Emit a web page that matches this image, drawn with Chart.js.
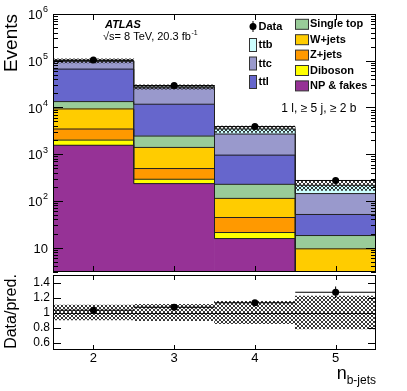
<!DOCTYPE html>
<html>
<head>
<meta charset="utf-8">
<script src="https://cdn.jsdelivr.net/npm/chart.js@4.4.0/dist/chart.umd.min.js"></script>
<style>
  body { margin: 0; background: #fff; }
  #wrap { position: relative; width: 407px; height: 391px; }
  canvas { position: absolute; left: 0; top: 0; }
</style>
</head>
<body>
<div id="wrap">
  <canvas id="main" width="407" height="391"></canvas>
  <canvas id="ratio" width="407" height="391"></canvas>
</div>
<script>
// b-jet multiplicity bins
const bins = ['2', '3', '4', '5'];

// stacked predictions (events per bin), bottom to top
const npFakes   = [1550, 234, 15.6, 1.2];
const diboson   = [450, 56, 5.4, 0.3];
const zJets     = [1450, 202, 23, 0.9];
const wJets     = [5840, 900, 69, 7.0];
const singleTop = [4050, 1045, 113, 8.7];
const ttl       = [52760, 9280, 725, 33];
const ttc       = [31000, 14500, 1740, 92];
const ttb       = [3000, 1300, 760, 72];

// data and uncertainties
const dataCounts = [103000, 29400, 3890, 273];
const dataErr    = [320, 170, 62, 17];
const relUnc     = [0.10, 0.11, 0.15, 0.22];
const ratio      = [1.03, 1.07, 1.13, 1.27];
const ratioErr   = [0.003, 0.006, 0.018, 0.077];

// axis ticks
const logTicks   = [10, 100, 1000, 10000, 100000, 1000000];
const ratioTicks = [0.6, 0.8, 1, 1.2, 1.4];

const FONT = '"Liberation Sans", Arial, Helvetica, sans-serif';

const samples = [
    { label: 'NP & fakes', data: npFakes,   color: '#963296', col: 'right' },
    { label: 'Diboson',    data: diboson,   color: '#ffff00', col: 'right' },
    { label: 'Z+jets',     data: zJets,     color: '#ff9900', col: 'right' },
    { label: 'W+jets',     data: wJets,     color: '#ffcc00', col: 'right' },
    { label: 'Single top', data: singleTop, color: '#99cc99', col: 'right' },
    { label: 'ttl',        data: ttl,       color: '#6666cc', col: 'left' },
    { label: 'ttc',        data: ttc,       color: '#9999cc', col: 'left' },
    { label: 'ttb',        data: ttb,       color: '#ccffff', col: 'left' }
];

const totals = bins.map((_, i) => samples.reduce((s, p) => s + p.data[i], 0));

function makeHatch() {
    const c = document.createElement('canvas');
    c.width = 4; c.height = 4;
    const g = c.getContext('2d');
    g.strokeStyle = '#222';
    g.lineWidth = 0.9;
    g.beginPath();
    g.moveTo(-1, -1); g.lineTo(5, 5);
    g.moveTo(5, -1); g.lineTo(-1, 5);
    g.stroke();
    return g.createPattern(c, 'repeat');
}
const hatch = makeHatch();

function drawFrame(chart) {
    const ctx = chart.ctx, a = chart.chartArea;
    ctx.save();
    ctx.strokeStyle = '#000';
    ctx.lineWidth = 1;
    ctx.strokeRect(Math.round(a.left) + 0.5, Math.round(a.top) + 0.5,
        Math.round(a.right - a.left) - 1, Math.round(a.bottom - a.top) - 1);
    ctx.restore();
}

function yTick(ctx, a, y, len) {
    ctx.moveTo(a.left, y); ctx.lineTo(a.left + len, y);
    ctx.moveTo(a.right, y); ctx.lineTo(a.right - len, y);
}

function xTicks(chart, len) {
    const ctx = chart.ctx, a = chart.chartArea, xs = chart.scales.x;
    bins.forEach((b, i) => {
        const x = Math.round(xs.getPixelForValue(i)) + 0.5;
        ctx.moveTo(x, a.bottom); ctx.lineTo(x, a.bottom - len);
        ctx.moveTo(x, a.top); ctx.lineTo(x, a.top + len);
    });
}

// histogram outlines, drawn before the hatched band
function drawOutlines(chart, n) {
    const ctx = chart.ctx, a = chart.chartArea;
    ctx.save();
    ctx.beginPath();
    ctx.rect(a.left, a.top, a.right - a.left, a.bottom - a.top);
    ctx.clip();
    ctx.strokeStyle = '#222';
    ctx.lineWidth = 1;
    for (let d = 0; d < n; d++) {
        const bars = chart.getDatasetMeta(d).data;
        ctx.beginPath();
        bars.forEach((b, i) => {
            const l = b.x - b.width / 2, r = b.x + b.width / 2;
            if (i === 0) ctx.moveTo(l, b.y); else ctx.lineTo(l, b.y);
            ctx.lineTo(r, b.y);
        });
        ctx.stroke();
    }
    ctx.restore();
}

function drawErrors(chart, idx, errs) {
    const ctx = chart.ctx, ys = chart.scales.y, xs = chart.scales.x;
    const half = (xs.getPixelForValue(1) - xs.getPixelForValue(0)) / 2;
    const vals = chart.data.datasets[idx].data;
    ctx.save();
    ctx.strokeStyle = '#000';
    ctx.lineWidth = 1;
    chart.getDatasetMeta(idx).data.forEach((p, i) => {
        ctx.beginPath();
        ctx.moveTo(p.x - half, p.y); ctx.lineTo(p.x + half, p.y);
        ctx.moveTo(p.x, ys.getPixelForValue(vals[i] - errs[i]));
        ctx.lineTo(p.x, ys.getPixelForValue(vals[i] + errs[i]));
        ctx.stroke();
    });
    ctx.restore();
}

const mainDecor = {
    id: 'mainDecor',
    beforeDatasetDraw(chart, args) {
        if (args.index === samples.length) drawOutlines(chart, samples.length);
        if (args.index === samples.length + 1) drawErrors(chart, args.index, dataErr);
    },
    afterDraw(chart) {
        const ctx = chart.ctx, a = chart.chartArea, ys = chart.scales.y;
        drawFrame(chart);

        // log ticks, both sides
        ctx.save();
        ctx.strokeStyle = '#000';
        ctx.lineWidth = 1;
        ctx.beginPath();
        for (let e = 0; e < 6; e++) {
            for (let k = 2; k <= 9; k++) {
                const v = k * Math.pow(10, e);
                if (v < ys.min || v > ys.max) continue;
                yTick(ctx, a, Math.round(ys.getPixelForValue(v)) + 0.5, 5);
            }
        }
        logTicks.forEach(v => yTick(ctx, a, Math.round(ys.getPixelForValue(v)) + 0.5, 10));
        xTicks(chart, 6);
        ctx.stroke();

        // tick labels
        ctx.fillStyle = '#000';
        ctx.textBaseline = 'middle';
        logTicks.forEach(v => {
            const y = ys.getPixelForValue(v) + 1.5;
            const e = Math.round(Math.log10(v));
            ctx.font = '13px ' + FONT;
            ctx.textAlign = 'right';
            if (e === 1) {
                ctx.fillText('10', 48, y);
            } else {
                ctx.fillText('10', 42.5, y);
                ctx.font = '9px ' + FONT;
                ctx.textAlign = 'left';
                ctx.fillText(String(e), 43, y - 5.5);
            }
        });

        // axis title
        ctx.save();
        ctx.translate(12, 14);
        ctx.rotate(-Math.PI / 2);
        ctx.font = '19px ' + FONT;
        ctx.textAlign = 'right';
        ctx.fillText('Events', 0, 0);
        ctx.restore();

        // ATLAS label
        ctx.textAlign = 'left';
        ctx.font = 'italic bold 11px ' + FONT;
        ctx.fillText('ATLAS', 105, 24.5);
        ctx.font = '11px ' + FONT;
        const lumi = '\u221As= 8 TeV, 20.3 fb';
        ctx.fillText(lumi, 103, 37);
        const lw = ctx.measureText(lumi).width;
        ctx.font = '7px ' + FONT;
        ctx.fillText('-1', 103 + lw + 0.5, 33);

        // legend: left column
        ctx.font = 'bold 11px ' + FONT;
        ctx.beginPath();
        ctx.arc(253, 26.5, 3.5, 0, Math.PI * 2);
        ctx.fill();
        ctx.beginPath();
        ctx.moveTo(253, 21); ctx.lineTo(253, 32);
        ctx.stroke();
        ctx.fillText('Data', 258.5, 26.5);
        const left = samples.filter(s => s.col === 'left').reverse();
        left.forEach((s, i) => {
            const yc = 45 + i * 18.5;
            ctx.fillStyle = s.color;
            ctx.fillRect(249.5, yc - 6.5, 7, 13);
            ctx.strokeStyle = '#333';
            ctx.strokeRect(249.5, yc - 6.5, 7, 13);
            ctx.fillStyle = '#000';
            ctx.fillText(s.label, 258.5, yc);
        });
        const right = samples.filter(s => s.col === 'right').reverse();
        right.forEach((s, i) => {
            const yc = 24.3 + i * 15.4;
            ctx.fillStyle = s.color;
            ctx.fillRect(295.5, yc - 5, 13, 10);
            ctx.strokeStyle = '#333';
            ctx.strokeRect(295.5, yc - 5, 13, 10);
            ctx.fillStyle = '#000';
            ctx.fillText(s.label, 310, yc);
        });

        ctx.font = '12px ' + FONT;
        ctx.textAlign = 'right';
        ctx.fillText('1 l, \u2265 5 j, \u2265 2 b', 356.5, 108.5);
        ctx.restore();
    }
};

const ratioDecor = {
    id: 'ratioDecor',
    beforeDatasetsDraw(chart) {
        const ctx = chart.ctx, a = chart.chartArea, ys = chart.scales.y;
        const y = Math.round(ys.getPixelForValue(1)) + 0.5;
        ctx.save();
        ctx.strokeStyle = '#000';
        ctx.lineWidth = 1;
        ctx.beginPath();
        ctx.moveTo(a.left, y); ctx.lineTo(a.right, y);
        ctx.stroke();
        ctx.restore();
    },
    beforeDatasetDraw(chart, args) {
        if (args.index === 1) drawErrors(chart, 1, ratioErr);
    },
    afterDraw(chart) {
        const ctx = chart.ctx, a = chart.chartArea, ys = chart.scales.y, xs = chart.scales.x;
        drawFrame(chart);
        ctx.save();
        ctx.strokeStyle = '#000';
        ctx.lineWidth = 1;
        ctx.beginPath();
        ratioTicks.forEach(v => yTick(ctx, a, Math.round(ys.getPixelForValue(v)) + 0.5, 8));
        xTicks(chart, 5);
        ctx.stroke();

        ctx.fillStyle = '#000';
        ctx.textBaseline = 'middle';
        ctx.font = '12px ' + FONT;
        ctx.textAlign = 'right';
        ratioTicks.forEach(v => ctx.fillText(String(v), 50, ys.getPixelForValue(v) + 0.5));

        ctx.font = '13px ' + FONT;
        ctx.textAlign = 'center';
        bins.forEach((b, i) => ctx.fillText(b, xs.getPixelForValue(i), 358));

        // x title n_{b-jets}
        ctx.textBaseline = 'alphabetic';
        ctx.textAlign = 'right';
        ctx.font = '12px ' + FONT;
        ctx.fillText('b-jets', 376, 384);
        const sw = ctx.measureText('b-jets').width;
        ctx.font = '18px ' + FONT;
        ctx.fillText('n', 376 - sw, 379);

        ctx.save();
        ctx.translate(12, (a.top + a.bottom) / 2 - 1);
        ctx.rotate(-Math.PI / 2);
        ctx.font = '16px ' + FONT;
        ctx.textAlign = 'center';
        ctx.textBaseline = 'middle';
        ctx.fillText('Data/pred.', 0, 0);
        ctx.restore();
        ctx.restore();
    }
};

const commonPlugins = {
    legend: { display: false },
    tooltip: { enabled: false },
    title: { display: false }
};

new Chart('main', {
    type: 'bar',
    data: {
        labels: bins,
        datasets: [
            ...samples.map(s => ({
                label: s.label,
                data: s.data,
                backgroundColor: s.color,
                borderWidth: 0,
                stack: 'mc',
                order: 2,
                clip: 0,
                barPercentage: 1,
                categoryPercentage: 1
            })),
            {
                label: 'Uncertainty',
                data: totals.map((t, i) => [t * (1 - relUnc[i]), t * (1 + relUnc[i])]),
                backgroundColor: hatch,
                borderWidth: 0,
                stack: 'unc',
                grouped: false,
                order: 1,
                clip: 0,
                barPercentage: 1,
                categoryPercentage: 1
            },
            {
                type: 'line',
                label: 'Data',
                data: dataCounts,
                stack: 'data',
                showLine: false,
                order: 0,
                pointRadius: 3.5,
                pointBackgroundColor: '#000',
                pointBorderWidth: 0
            }
        ]
    },
    options: {
        responsive: false,
        animation: false,
        devicePixelRatio: 1,
        layout: { padding: { left: 53, right: 31, top: 14, bottom: 119 } },
        plugins: commonPlugins,
        scales: {
            x: { display: false, stacked: true, offset: true },
            y: { display: false, type: 'logarithmic', stacked: true, min: 3, max: 1000000 }
        }
    },
    plugins: [mainDecor]
});

new Chart('ratio', {
    type: 'bar',
    data: {
        labels: bins,
        datasets: [
            {
                label: 'Uncertainty',
                data: relUnc.map(u => [1 - u, 1 + u]),
                backgroundColor: hatch,
                borderWidth: 0,
                order: 1,
                clip: 0,
                barPercentage: 1,
                categoryPercentage: 1
            },
            {
                type: 'line',
                label: 'Data/pred.',
                data: ratio,
                showLine: false,
                order: 0,
                pointRadius: 3.5,
                pointBackgroundColor: '#000',
                pointBorderWidth: 0
            }
        ]
    },
    options: {
        responsive: false,
        animation: false,
        devicePixelRatio: 1,
        layout: { padding: { left: 53, right: 31, top: 275, bottom: 41 } },
        plugins: commonPlugins,
        scales: {
            x: { display: false, offset: true },
            y: { display: false, min: 0.5, max: 1.5 }
        }
    },
    plugins: [ratioDecor]
});
</script>
</body>
</html>
